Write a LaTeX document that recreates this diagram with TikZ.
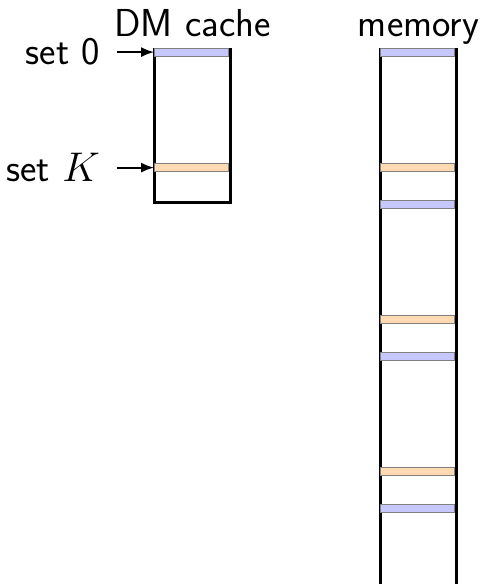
\documentclass[tikz,border=0pt]{standalone}
\usetikzlibrary{positioning,arrows.meta}

\begin{document}
\begin{tikzpicture}[x=0.5pt,y=-0.5pt,>={Latex[length=6.5pt,width=5pt]},
  every node/.style={font=\fontsize{19.5}{23}\selectfont\sffamily},
  box/.style={draw,line width=1.5pt,inner sep=0pt,minimum width=38pt,anchor=north west},
  line/.style={draw=black!50,line width=0.6pt,inner sep=0pt,minimum width=36.8pt,minimum height=4pt,anchor=north west},
  setA/.style={line,fill=blue!22},
  setB/.style={line,fill=orange!30},
  lbl/.style={left=23.5pt of #1,inner sep=3.5pt}]
\useasboundingbox (0,0) rectangle (483,584);
\clip (0,0) rectangle (483,584);
% boxes
\node[box,minimum height=76.5pt] (cache) at (153,48) {};
\node[box,minimum height=300pt] (mem) at (379,48) {};
% cache lines
\node[setA] (c0) at (154.2,47.5) {};
\node[setB] (cK) at (154.2,163) {};
% memory lines
\foreach \i in {0,...,3}
  \node[setA] (mA\i) at (380.2,47.5+152*\i) {};
\foreach \i in {0,...,2}
  \node[setB] (mB\i) at (380.2,163+152*\i) {};
% labels
\node[above=2pt of cache] (ctitle) {DM cache};
\node[anchor=base] (mtitle) at (ctitle.base -| mem.north) {memory};
\node[lbl=c0] (set0) {set~0};
\node[lbl=cK] (setK) {set $K$};
\draw[->,line width=1pt,shorten <=5pt] (set0) -- (c0);
\draw[->,line width=1pt,shorten <=5pt] (setK) -- (cK);
\end{tikzpicture}
\end{document}
